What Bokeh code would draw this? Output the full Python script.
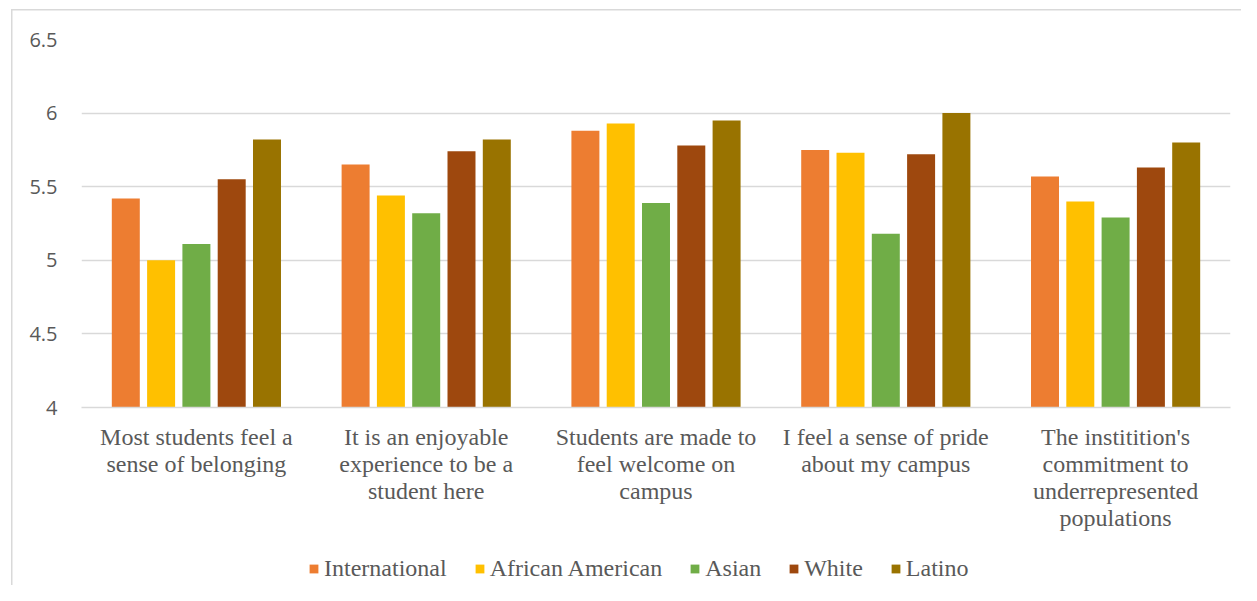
from bokeh.plotting import figure
from bokeh.layouts import column
from bokeh.models import (ColumnDataSource, FactorRange, Range1d, FixedTicker,
                          NumeralTickFormatter, Legend, LegendItem)
from bokeh.transform import dodge
from bokeh.embed import file_html
from bokeh.resources import INLINE

categories = [
    "Most students feel a\nsense of belonging",
    "It is an enjoyable\nexperience to be a\nstudent here",
    "Students are made to\nfeel welcome on\ncampus",
    "I feel a sense of pride\nabout my campus",
    "The institition's\ncommitment to\nunderrepresented\npopulations",
]
series_names = ["International", "African American", "Asian", "White", "Latino"]
international = [5.42, 5.65, 5.88, 5.75, 5.57]
african_american = [5.00, 5.44, 5.93, 5.73, 5.40]
asian = [5.11, 5.32, 5.39, 5.18, 5.29]
white = [5.55, 5.74, 5.78, 5.72, 5.63]
latino = [5.82, 5.82, 5.95, 6.00, 5.80]
y_ticks = [4, 4.5, 5, 5.5, 6, 6.5]

colors = ["#ED7D31", "#FFC000", "#70AD47", "#9E480E", "#997300"]
series_values = [international, african_american, asian, white, latino]
keys = ["international", "african_american", "asian", "white", "latino"]

data = {"cat": categories}
for k, v in zip(keys, series_values):
    data[k] = v
source = ColumnDataSource(data)

x_range = FactorRange(factors=categories, range_padding=0)

p = figure(
    x_range=x_range,
    y_range=Range1d(y_ticks[0], y_ticks[-1]),
    width=1241, height=545,
    output_backend="svg", toolbar_location=None,
    min_border_left=81, min_border_right=11, min_border_top=39, min_border_bottom=138,
)
p.outline_line_color = None
p.background_fill_color = "white"
p.border_fill_color = None

step = 0.1536
bw = 0.1218
for i, (k, c) in enumerate(zip(keys, colors)):
    off = (i - 2) * step
    p.vbar(x=dodge("cat", off, range=x_range), top=k, bottom=y_ticks[0],
           width=bw, source=source, fill_color=c, line_color=None)

# grid
p.xgrid.grid_line_color = None
p.ygrid.ticker = FixedTicker(ticks=y_ticks)
p.ygrid.grid_line_color = "#d9d9d9"
p.ygrid.grid_line_width = 1.3

# y axis
p.yaxis.ticker = FixedTicker(ticks=y_ticks)
p.yaxis.formatter = NumeralTickFormatter(format="0.[0]")
p.yaxis.axis_line_color = None
p.yaxis.major_tick_line_color = None
p.yaxis.minor_tick_line_color = None
p.yaxis.major_tick_out = 0
p.yaxis.major_tick_in = 0
p.yaxis.major_label_standoff = 24
p.yaxis.major_label_text_font = "Open Sans"
p.yaxis.major_label_text_font_size = "20px"
p.yaxis.major_label_text_color = "#595959"

# x axis
p.xaxis.axis_line_color = "#d9d9d9"
p.xaxis.axis_line_width = 1.3
p.xaxis.major_tick_line_color = None
p.xaxis.minor_tick_line_color = None
p.xaxis.major_tick_out = 0
p.xaxis.major_tick_in = 0
p.xaxis.major_label_standoff = 16
p.xaxis.major_label_text_font = "Liberation Serif"
p.xaxis.major_label_text_font_size = "24px"
p.xaxis.major_label_text_color = "#595959"
p.xaxis.major_label_text_line_height = 1.05
p.xaxis.major_label_orientation = "horizontal"

# legend strip (same series, legend only; the bars themselves are hidden)
q = figure(
    x_range=x_range, y_range=Range1d(0, 1),
    width=1241, height=40,
    output_backend="svg", toolbar_location=None,
    min_border_left=0, min_border_right=0, min_border_top=0, min_border_bottom=0,
)
q.outline_line_color = None
q.background_fill_color = None
q.border_fill_color = None
q.axis.visible = False
q.grid.visible = False
renderers = []
for i, (k, c) in enumerate(zip(keys, colors)):
    off = (i - 2) * step
    r = q.vbar(x=dodge("cat", off, range=x_range), top=k, bottom=y_ticks[0],
               width=bw, source=source, fill_color=c, line_color=None, visible=False)
    renderers.append(r)

legend = Legend(
    items=[LegendItem(label=n, renderers=[r]) for n, r in zip(series_names, renderers)],
    orientation="horizontal",
    location=(227, 3),
    glyph_width=11, glyph_height=11,
    label_standoff=5, spacing=27,
    padding=0, margin=0,
    border_line_color=None, background_fill_alpha=0,
    label_text_font="Liberation Serif", label_text_font_size="24px",
    label_text_color="#595959",
)
q.add_layout(legend, "center")

layout = column(p, q, spacing=0)
layout.styles = {
    "background": "linear-gradient(#d9d9d9, #d9d9d9) 11px 9px / 1.5px 100% no-repeat, "
                  "linear-gradient(#d9d9d9, #d9d9d9) 11px 9px / 100% 1.5px no-repeat, white",
}
open("out.html", "w").write(file_html(layout, INLINE))
